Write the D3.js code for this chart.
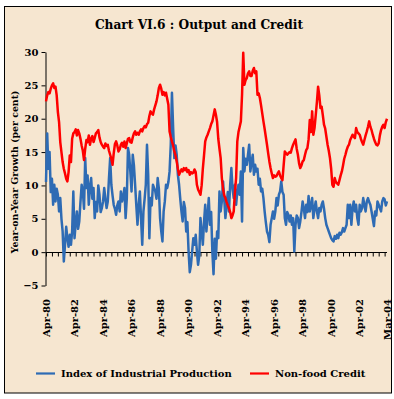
<!DOCTYPE html>
<html>
<head>
<meta charset="utf-8">
<script src="https://cdn.jsdelivr.net/npm/d3@7"></script>
<style>
  body { margin: 0; background: #fff; }
  svg text { font-family: "DejaVu Serif", serif; font-weight: bold; fill: #000; }
</style>
</head>
<body>
<script>
// monthly year-on-year growth, Apr-1980 .. Mar-2004 (one row per Apr-Mar year)
var iip = [
  10.5, 17.8, 12.5, 15.0, 9.0, 11.0, 7.1, 10.1, 7.6, 9.5, 8.6, 6.1,
  8.1, 5.0, 3.1, -1.4, 1.1, 3.8, 2.1, 0.8, 2.6, 1.1, 3.1, 9.1,
  2.1, 4.3, 6.1, 3.5, 4.6, 7.5, 10.1, 9.1, 6.5, 14.1, 9.6, 11.5,
  7.1, 9.8, 11.1, 8.0, 9.6, 5.1, 7.5, 6.1, 10.0, 8.6, 6.0, 6.6,
  7.6, 9.6, 8.0, 6.6, 7.6, 11.1, 14.1, 10.1, 8.5, 7.1, 6.5, 5.6,
  7.0, 7.6, 6.1, 9.1, 7.6, 8.3, 9.6, 5.1, 8.0, 15.6, 14.6, 12.0,
  9.1, 14.6, 13.0, 10.1, 7.0, 4.1, 7.1, 9.1, 5.0, 1.1, 6.1, 8.0,
  10.1, 16.1, 11.6, 2.1, 8.1, 7.0, 10.1, 9.6, 9.1, 8.0, 11.1, 9.5,
  5.1, 3.1, 1.6, 6.1, 7.6, 10.1, 9.6, 10.5, 12.1, 16.1, 23.9, 18.6,
  14.1, 16.0, 14.6, 11.6, 10.1, 8.0, 6.1, 4.6, 7.5, 6.6, 3.1, 4.5,
  0.1, -3.0, -1.9, 0.1, 2.1, 1.1, 2.6, 0.1, -1.9, -0.5, 5.1, 3.1,
  1.1, 4.5, 7.1, 3.1, 5.5, 8.1, 4.1, 6.0, 0.1, -3.3, 2.0, -1.0,
  3.1, 2.1, 9.1, 6.1, 7.6, 10.6, 8.0, 5.1, 7.1, 9.0, 6.1, 10.1,
  12.6, 9.5, 8.1, 10.1, 7.1, 9.0, 10.1, 8.6, 12.1, 4.6, 15.6, 12.1,
  14.0, 13.1, 14.6, 16.1, 12.1, 13.5, 14.6, 11.6, 13.1, 12.1, 12.5, 10.1,
  11.0, 9.1, 9.5, 8.1, 6.1, 4.5, 3.1, 2.6, 1.5, 4.1, 5.1, 6.1,
  5.0, 6.1, 8.1, 7.0, 8.6, 9.1, 10.6, 9.0, 8.6, 5.1, 4.1, 6.0,
  5.6, 4.6, 5.5, 4.1, 5.1, 0.1, 4.1, 5.5, 5.1, 3.6, 4.6, 6.0,
  7.6, 6.5, 5.1, 7.1, 6.0, 8.4, 6.1, 7.0, 8.1, 5.1, 6.5, 7.6,
  6.1, 5.1, 6.6, 6.1, 7.1, 7.6, 6.5, 5.1, 4.1, 3.6, 3.1, 2.6,
  2.1, 1.8, 1.6, 2.4, 2.0, 2.6, 2.1, 2.9, 2.6, 3.0, 3.6, 3.1,
  3.6, 4.1, 7.1, 5.1, 7.1, 4.1, 6.5, 7.6, 6.1, 7.1, 5.1, 4.1,
  7.1, 6.1, 6.6, 8.1, 7.0, 6.1, 7.6, 8.1, 7.5, 7.1, 6.1, 5.0,
  3.9, 6.1, 5.5, 7.6, 7.1, 6.6, 6.1, 7.6, 8.1, 7.9, 7.0, 7.6
];

var credit = [
  22.6, 23.5, 24.0, 23.8, 24.5, 25.0, 25.3, 24.6, 24.8, 23.5, 21.0, 19.5,
  16.5, 15.0, 13.5, 12.5, 11.8, 11.0, 10.6, 12.0, 14.5, 13.5, 17.0, 17.8,
  18.0, 18.4, 17.5, 18.3, 17.8, 17.0, 16.0, 15.2, 13.8, 15.5, 16.8, 16.5,
  17.5, 16.1, 17.0, 17.4, 16.5, 17.1, 17.8, 18.0, 18.3, 17.2, 16.5, 16.1,
  15.8, 15.6, 16.3, 15.9, 16.1, 15.2, 14.6, 14.0, 13.1, 14.8, 16.2, 16.6,
  16.0, 15.1, 15.4, 16.1, 16.4, 15.8, 16.6, 15.6, 16.3, 17.0, 17.1, 16.5,
  16.4, 17.2, 17.8, 18.1, 17.6, 17.9, 17.6, 18.1, 18.4, 18.1, 18.6, 18.9,
  18.7, 19.2, 19.4, 20.4, 21.1, 20.8, 20.6, 21.4, 22.0, 22.6, 23.5, 24.6,
  25.1, 24.5, 23.6, 24.0, 23.5, 23.9, 23.0, 22.1, 18.1, 17.3, 16.6, 16.0,
  15.1, 14.5, 13.6, 12.5, 11.6, 12.0, 12.4, 12.1, 12.6, 12.3, 12.6, 12.0,
  12.3, 11.6, 12.0, 11.8, 11.9, 12.4, 12.0, 10.1, 9.4, 9.0, 8.6, 10.0,
  12.5, 14.5, 16.6, 17.2, 17.6, 18.1, 18.6, 19.2, 19.6, 20.5, 21.4, 20.6,
  19.5, 17.0, 15.5, 14.1, 11.1, 9.5, 8.5, 8.1, 7.5, 7.0, 6.6, 6.0,
  5.1, 5.5, 6.1, 9.0, 11.1, 16.6, 18.0, 18.8, 19.6, 23.6, 29.9, 25.1,
  25.8, 26.1, 26.8, 27.1, 26.4, 26.4, 27.2, 27.6, 26.8, 27.1, 23.6, 23.8,
  23.1, 22.0, 20.8, 19.6, 18.5, 17.3, 16.1, 14.8, 13.6, 12.6, 11.8, 11.1,
  11.5, 11.3, 11.4, 11.8, 12.1, 11.5, 11.1, 10.8, 13.0, 15.1, 14.8, 14.6,
  14.8, 15.0, 14.9, 15.6, 16.1, 16.5, 16.9, 15.5, 14.6, 13.3, 12.6, 13.0,
  13.6, 13.8, 14.6, 15.3, 15.6, 16.9, 19.8, 18.0, 21.1, 17.6, 18.6, 20.5,
  22.5, 24.8, 23.5, 21.6, 21.8, 20.5, 19.1, 18.5, 17.3, 16.1, 15.2, 14.1,
  12.5, 10.1, 9.8, 11.1, 10.5, 10.3, 10.1, 10.8, 11.5, 12.1, 13.0, 14.0,
  14.6, 15.3, 15.8, 16.1, 16.8, 17.2, 17.6, 17.3, 17.1, 18.6, 18.0, 17.8,
  17.6, 17.0, 16.5, 16.1, 16.8, 17.5, 18.1, 18.8, 19.6, 18.8, 18.3, 17.6,
  17.0, 16.5, 16.1, 16.0, 16.3, 17.5, 18.3, 18.8, 19.1, 18.6, 19.5, 20.0
];

var xLabels = ["Apr-80", "Apr-82", "Apr-84", "Apr-86", "Apr-88", "Apr-90", "Apr-92",
               "Apr-94", "Apr-96", "Apr-98", "Apr-00", "Apr-02", "Mar-04"];
var xLabelMonth = [0, 24, 48, 72, 96, 120, 144, 168, 192, 216, 240, 264, 287];
var yTicks = [-5, 0, 5, 10, 15, 20, 25, 30];
var seriesNames = ["Index of Industrial Production", "Non-food Credit"];
var colors = ["#2e6bb4", "#ff0000"];

var W = 394, H = 399;

var svg = d3.select("body").append("svg")
    .attr("width", W)
    .attr("height", H);

// panel
svg.append("rect")
    .attr("x", 4.5).attr("y", 6.5)
    .attr("width", 387).attr("height", 386.5)
    .attr("fill", "#f6e6d0")
    .attr("stroke", "#000")
    .attr("stroke-width", 1);

svg.append("text")
    .attr("x", 199)
    .attr("y", 29)
    .attr("text-anchor", "middle")
    .style("font-size", "12.2px")
    .style("font-weight", "900")
    .text("Chart VI.6 : Output and Credit");

var x = d3.scaleLinear()
    .domain([0, iip.length - 1])
    .range([46, 387]);

var y = d3.scaleLinear()
    .domain([-5, 30])
    .range([285.5, 52]);

// y axis
var yAxis = d3.axisLeft(y)
    .tickValues(yTicks)
    .tickSize(4)
    .tickSizeOuter(0)
    .tickPadding(3)
    .tickFormat(d3.format("d"));

var gy = svg.append("g")
    .attr("transform", "translate(45.5,0)")
    .call(yAxis);
gy.selectAll("text").style("font-size", "10px").attr("font-family", null);
gy.selectAll("path, line").attr("stroke", "#000");

// x axis along zero line, minor ticks every 5 months
var monthTicks = d3.range(0, iip.length, 5);
var xAxis = d3.axisBottom(x)
    .tickValues(monthTicks)
    .tickSize(4)
    .tickSizeOuter(0)
    .tickFormat("");

var gx = svg.append("g")
    .attr("transform", "translate(0," + (Math.round(y(0)) + 0.5) + ")")
    .call(xAxis);
gx.select(".domain").attr("d", "M45.5,0H387");
gx.selectAll("path, line").attr("stroke", "#000");

// rotated date labels
svg.append("g").selectAll("text")
    .data(xLabels)
    .enter().append("text")
    .attr("transform", function(d, i) {
        return "translate(" + x(xLabelMonth[i]) + ",299) rotate(-90)";
    })
    .attr("dy", "0.35em")
    .attr("text-anchor", "end")
    .style("font-size", "10px")
    .text(function(d) { return d; });

// y title
svg.append("text")
    .attr("transform", "translate(15,172) rotate(-90)")
    .attr("text-anchor", "middle")
    .attr("dy", "0.35em")
    .style("font-size", "9.4px")
    .text("Year-on-Year Growth (per cent)");

// series
var line = d3.line()
    .x(function(d, i) { return x(i); })
    .y(function(d) { return y(d); });

[iip, credit].forEach(function(s, k) {
    svg.append("path")
        .datum(s)
        .attr("fill", "none")
        .attr("stroke", colors[k])
        .attr("stroke-width", 2.5)
        .attr("stroke-linejoin", "round")
        .attr("d", line);
});

// legend
var legX = [36, 250];
var leg = svg.append("g").selectAll("g")
    .data(seriesNames)
    .enter().append("g")
    .attr("transform", function(d, i) { return "translate(" + legX[i] + ",373.5)"; });

leg.append("line")
    .attr("x1", 0).attr("x2", 19)
    .attr("stroke", function(d, i) { return colors[i]; })
    .attr("stroke-width", 2.2);

leg.append("text")
    .attr("x", 25)
    .attr("dy", "0.35em")
    .style("font-size", "10px")
    .text(function(d) { return d; });
</script>
</body>
</html>
